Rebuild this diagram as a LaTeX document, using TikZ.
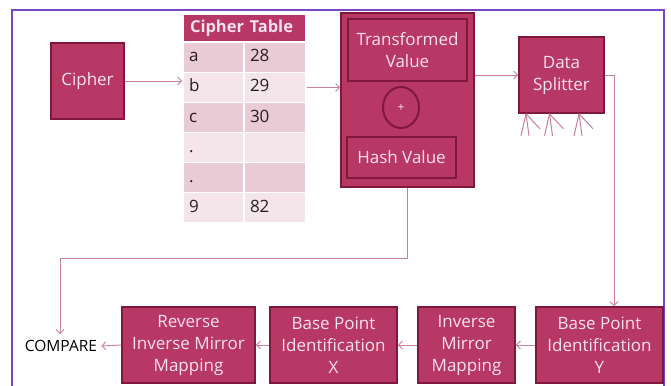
\documentclass[tikz,border=0pt]{standalone}
\usepackage{fontspec}
\setmainfont{Open Sans}
\usetikzlibrary{arrows.meta,calc,shapes.geometric,fit}
\definecolor{boxfill}{RGB}{183,56,100}
\definecolor{boxedge}{RGB}{128,24,62}
\definecolor{boxtext}{RGB}{250,226,236}
\definecolor{linkcol}{RGB}{200,128,155}
\definecolor{rowdark}{RGB}{233,203,214}
\definecolor{rowlight}{RGB}{244,229,235}
\definecolor{cellink}{RGB}{40,30,35}
\definecolor{framecol}{RGB}{122,70,200}
\begin{document}
\begin{tikzpicture}[x=1pt,y=-1pt,
  txt/.style={font=\fontsize{17}{22}\selectfont},
  block/.style={txt,draw=boxedge,line width=1.6pt,fill=boxfill,text=boxtext,
    align=center,inner sep=0pt},
  innerbox/.style={block,line width=1.8pt},
  conn/.style={draw=linkcol,line width=0.9pt,-{Straight Barb[length=4pt,width=8pt]}},
  cell/.style={txt,draw=white,line width=1.2pt,text=cellink,align=left,
    inner xsep=6pt,inner ysep=0pt,minimum height=30,text height=12pt,text depth=3pt},
  lcell/.style={cell,text width=49pt},
  rcell/.style={cell,text width=50pt},
  dk/.style={fill=rowdark},
  lt/.style={fill=rowlight},
  fan/.style={draw=linkcol,line width=1pt}]
\useasboundingbox (0,0) rectangle (671,385);
\fill[white] (0,0) rectangle (671,385);

% outer frame
\draw[framecol,line width=1.6pt] (12,392) -- (12,10) -- (664,10) -- (664,392);

% input block
\node[block,minimum width=73,minimum height=76] (cipher) at (87.5,81) {Cipher};

% cipher table
\node[txt,font=\fontsize{16.5}{22}\selectfont\bfseries,fill=boxfill,text=boxtext,
  draw=white,line width=1.2pt,text width=109pt,inner xsep=7pt,align=left,
  minimum height=28,text height=12pt,text depth=3pt] (thead) at (244.5,28) {Cipher Table};
\node[lcell,dk] (ta1) at (213.5,57.5) {a};  \node[rcell,dk] (ta2) at (275,57.5) {28};
\node[lcell,lt] (tb1) at (213.5,87.5) {b};  \node[rcell,lt] (tb2) at (275,87.5) {29};
\node[lcell,dk] (tc1) at (213.5,117.5) {c}; \node[rcell,dk] (tc2) at (275,117.5) {30};
\node[lcell,lt] (td1) at (213.5,147.5) {.}; \node[rcell,lt] (td2) at (275,147.5) {};
\node[lcell,dk] (te1) at (213.5,177.5) {.}; \node[rcell,dk] (te2) at (275,177.5) {};
\node[lcell,lt] (tf1) at (213.5,207.5) {9}; \node[rcell,lt] (tf2) at (275,207.5) {82};
\node[fit=(thead)(tf1)(tf2),inner sep=0pt] (table) {};

% combining block
\node[block,minimum width=133,minimum height=174] (big) at (407.5,100) {};
\node[innerbox,minimum width=119,minimum height=62] (tv) at (407.5,50) {Transformed\\Value};
\node[ellipse,draw=boxedge,line width=2pt,fill=boxfill,text=boxtext,
  minimum width=36,minimum height=41,inner sep=0pt,font=\fontsize{12}{14}\selectfont]
  (plus) at (401,107.5) {+};
\node[innerbox,minimum width=109,minimum height=41] (hash) at (401.5,157.5) {Hash Value};

% splitter
\node[block,minimum width=85,minimum height=76] (split) at (561.5,75) {Data\\Splitter};
\begin{scope}[shift={(split.south)}]
  \foreach \dx in {-35.5,-12,17.5}{
    \draw[fan] (\dx,0) -- (\dx-5,22);
    \draw[fan] (\dx,0) -- (\dx+3,22);
    \draw[fan] (\dx,0) -- (\dx+14,15);
  }
\end{scope}

% bottom row
\node[block,minimum width=133,minimum height=76] (rimm) at (188.5,345) {Reverse\\Inverse Mirror\\Mapping};
\node[block,minimum width=127,minimum height=76] (bpx) at (333.5,345) {Base Point\\Identification\\X};
\node[block,minimum width=97,minimum height=76] (imm) at (466.5,345) {Inverse\\Mirror\\Mapping};
\node[block,minimum width=127,minimum height=76] (bpy) at (599.5,345) {Base Point\\Identification\\Y};
\node[txt,font=\fontsize{15.5}{20}\selectfont,text=black,inner sep=1pt] (compare) at (61,346) {COMPARE};

% connectors
\draw[conn] (cipher.east) -- (cipher.east -| table.west);
\draw[conn] (tb2.east) -- (tb2.east -| big.west);
\draw[conn] (split.west -| big.east) -- (split.west);
\coordinate (sturn) at (614,75);
\draw[conn] (split.east) -- (sturn) -- (sturn |- bpy.north);
\coordinate (hturn) at (60,258);
\draw[conn] (big.south) |- (hturn) -- ($(hturn |- compare.north)+(0,-5)$);
\draw[conn] (bpy.west) -- (imm.east);
\draw[conn] (imm.west) -- (bpx.east);
\draw[conn] (bpx.west) -- (rimm.east);
\draw[conn] (rimm.west) -- ($(compare.east)+(3,0)$);
\end{tikzpicture}
\end{document}
